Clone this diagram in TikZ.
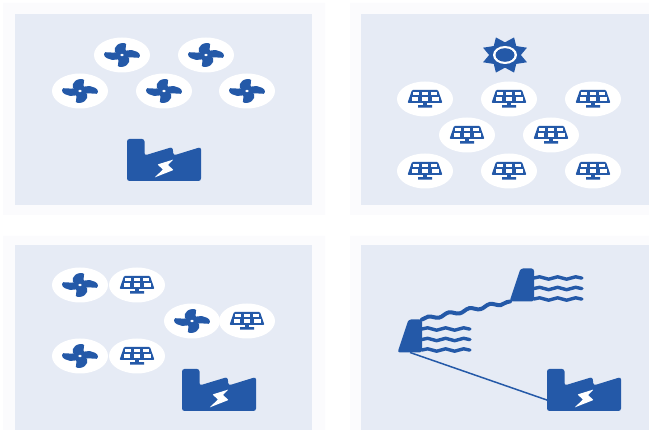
\documentclass[tikz,border=0pt]{standalone}
\definecolor{PanelBlue}{HTML}{E6EBF5}
\definecolor{HaloGrey}{HTML}{FBFBFD}
\definecolor{IconBlue}{HTML}{2459A8}
\usetikzlibrary{calc,shapes.geometric,decorations.pathmorphing}
\tikzset{
  panel/.style={fill=PanelBlue},
  halo/.style={fill=HaloGrey},
  disc/.style={ellipse, fill=white, minimum width=56pt, minimum height=35pt, inner sep=0pt},
  plantbox/.style={minimum width=75pt, minimum height=42pt, inner sep=0pt, outer sep=0pt},
  dambox/.style={minimum width=24pt, minimum height=33pt, inner sep=0pt, outer sep=0pt},
  ripple/.style={draw=IconBlue, line width=3.4pt, line cap=round,
    decorate, decoration={snake, segment length=18pt, amplitude=1.2pt}},
  pics/turbine/.style={code={
    \begin{scope}[xscale=1.5]
      \fill[IconBlue] (0,0) circle (4);
      \foreach \a in {0,90,180,270}
        \fill[IconBlue, rotate=\a] (0,0) .. controls (-5,0) and (-6.5,-6) .. (-3.2,-10)
          .. controls (-1.6,-12.4) and (2,-12.4) .. (2.8,-11) .. controls (2.2,-8) and (2.6,-4) .. (2.6,0) -- cycle;
      \fill[white] (0,0) circle (1.3);
    \end{scope}}},
  pics/solar/.style={code={
    \fill[IconBlue, rounded corners=1pt] (-13,-9) -- (13,-9) -- (17.5,4) -- (-17.5,4) -- cycle;
    \fill[IconBlue] (-1.8,4) rectangle (1.8,7) (-7,6.2) rectangle (7,8.6);
    \foreach \i in {-1,0,1} {
      \fill[white] ({\i*8.8-2.9},-6.8) rectangle ({\i*8.8+2.9},-3.6);
      \fill[white] ({\i*10.2-3.3},-1.6) rectangle ({\i*10.2+3.3},1.6);
    }}},
  pics/plant/.style={code={
    \fill[IconBlue, rounded corners=2.5pt] (-37.5,-21) -- (-20,-21) -- (-20,-4.5) -- (8,-13) -- (9,-4.5) -- (36.5,-13)
      -- (36.5,21) -- (-37.5,21) -- cycle;
    \fill[white, rounded corners=0.6pt] (9,-0.5) -- (-7,4.5) -- (-1.5,9.5) -- (-10,17.5) -- (9,10) -- (3.5,5) -- cycle;}},
  pics/dam/.style={code={
    \fill[IconBlue, rounded corners=2.5pt] (-1.5,-16.5) -- (12,-16.5) -- (12,16.5) -- (-12.5,16.5) -- cycle;
    \foreach \w in {-7,3.5,14}
      \draw[ripple] (12,\w) -- (60,\w);}}
}
\begin{document}
\begin{tikzpicture}[x=1pt, y=-1pt]
  \useasboundingbox (0,0) rectangle (649,430);
  \path[halo] (3,3) rectangle (325,215) (350,3) rectangle (649,215) (3,236) rectangle (325,430) (350,236) rectangle (649,430);
  % wind farm
  \path[panel] (15,14) rectangle (312,205);
  \foreach \n/\x/\y in {1/122/55, 2/206/55, 3/80/91, 4/164/91, 5/247/91} {
    \node[disc] (wind\n) at (\x,\y) {};
    \pic at (wind\n) {turbine};
  }
  \node[plantbox] (plant1) at (164.5,160) {};
  \pic at (plant1) {plant};
  % solar farm
  \path[panel] (361,14) rectangle (649,205);
  \node[star, star points=8, star point ratio=1.5, shape border rotate=22.5, fill=IconBlue, minimum size=38pt,
    inner sep=0pt, xscale=1.25, transform shape] (sun) at (505,55) {};
  \fill[white] (sun.center) ellipse (12 and 9);
  \fill[IconBlue] (sun.center) ellipse (9.5 and 6.8);
  \foreach \n/\x/\y in {1/425/99, 2/509/99, 3/593/99, 4/467/135, 5/551/135, 6/425/171, 7/509/171, 8/593/171} {
    \node[disc] (solar\n) at (\x,\y) {};
    \pic at (solar\n) {solar};
  }
  % hybrid plant
  \path[panel] (15,245) rectangle (312,430);
  \foreach \n/\x/\y in {1/80/285, 2/192/321, 3/80/356} {
    \node[disc] (gust\n) at (\x,\y) {};
    \pic at (gust\n) {turbine};
  }
  \foreach \n/\x/\y in {1/137/285, 2/247/321, 3/137/356} {
    \node[disc] (cell\n) at (\x,\y) {};
    \pic at (cell\n) {solar};
  }
  \node[plantbox] (plant2) at (219.5,390) {};
  \pic at (plant2) {plant};
  % hydro plant
  \path[panel] (361,245) rectangle (649,430);
  \node[dambox] (damlow) at (410,336) {};
  \node[dambox] (damup) at (522,285) {};
  \node[plantbox] (plant3) at (584.5,390) {};
  \draw[ripple, line width=4pt, decoration={segment length=21pt, amplitude=1.6pt}] (damlow.north east) -- (damup.south west);
  \draw[IconBlue, line width=1.5pt] (damlow.south) -- (plant3.195);
  \pic at (damlow) {dam};
  \pic at (damup) {dam};
  \pic at (plant3) {plant};
\end{tikzpicture}
\end{document}
